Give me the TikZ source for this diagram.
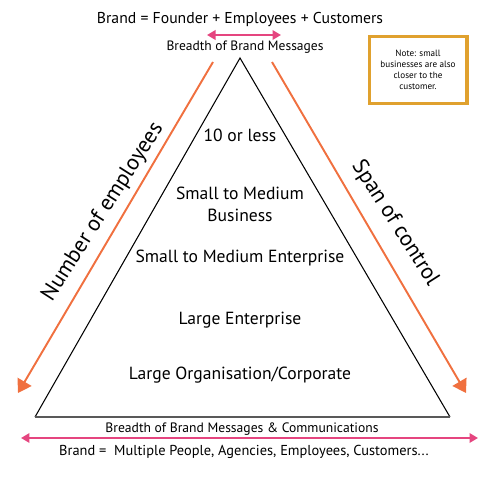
\documentclass[tikz,border=0pt]{standalone}
\usepackage{fontspec}
\setmainfont{PT Sans}
\usetikzlibrary{arrows.meta}
\definecolor{brandpink}{HTML}{E5457F}
\definecolor{spanorange}{HTML}{F0703F}
\definecolor{notegold}{HTML}{E0A12E}
\tikzset{
  pinkarrow/.style={draw=brandpink, line width=1.1pt, {Triangle[length=1.7mm,width=1.9mm]}-{Triangle[length=1.7mm,width=1.9mm]}},
  orangearrow/.style={draw=spanorange, line width=1.1pt, -{Triangle[length=2.6mm,width=3.2mm]}},
  tierlabel/.style={font=\fontsize{10}{12}\selectfont, inner sep=0pt},
}
\begin{document}
\begin{tikzpicture}[x=0.02cm, y=-0.02cm]
        \useasboundingbox (0,0) rectangle (500,500);                  %
        % pyramid
        \coordinate (apex)  at (240,58);                              %
        \coordinate (left)  at (35,417);                              %
        \coordinate (right) at (450,417);                             %
        \draw [line width=0.6pt] (left) -- (apex) -- (right);         %
        \draw [line width=1.1pt, black!65] (left) -- (right);         %base
        % top
        \node (topbrand) at (240,20) [inner sep=0pt, font=\fontsize{8.95}{10}\selectfont]
              {Brand = Founder + Employees + Customers};              %
        \coordinate (tl) at (207,35);                                 %
        \coordinate (tr) at (281,35);                                 %
        \draw [pinkarrow] (tl) -- (tr);                               %
        \node (topbreadth) at (245,47) [inner sep=0pt, font=\fontsize{7.7}{9}\selectfont]
              {Breadth of Brand Messages};                            %
        % note
        \node (note) at (418,70) [draw=notegold, line width=2pt, minimum width=1.95cm, minimum height=1.34cm,
              align=center, font=\fontsize{5.2}{6.3}\selectfont]
              {Note: small\\businesses are also\\closer to the\\customer.};%
        % tiers
        \node (tierA) at (240,135) [tierlabel] {10 or less};           %
        \node (tierB) at (240,204.5) [tierlabel, align=center]
              {Small to Medium\\[0.5pt]Business};                     %
        \node (tierC) at (240,258) [tierlabel] {Small to Medium Enterprise};%
        \node (tierD) at (240,320) [tierlabel] {Large Enterprise};     %
        \node (tierE) at (240,375) [tierlabel] {Large Organisation/Corporate};%
        % side arrows
        \coordinate (lt) at (213,62);                                 %
        \coordinate (lb) at (18,393);                                 %
        \coordinate (rt) at (272,62);                                 %
        \coordinate (rb) at (466,393);                                %
        \draw [orangearrow] (lt) -- (lb);                             %
        \draw [orangearrow] (rt) -- (rb);                             %
        \node (employees) at (103,212) [rotate=57.5, inner sep=0pt, font=\fontsize{12.6}{14}\selectfont]
              {Number of employees};                                  %
        \node (span) at (395,223) [rotate=-57.5, inner sep=0pt, font=\fontsize{12.6}{14}\selectfont]
              {Span of control};                                      %
        % bottom
        \node (botbreadth) at (242,429) [inner sep=0pt, font=\fontsize{7.75}{9}\selectfont]
              {Breadth of Brand Messages \& Communications};          %
        \coordinate (bl) at (21,438);                                 %
        \coordinate (br) at (478,438);                                %
        \draw [pinkarrow] (bl) -- (br);                               %
        \node (botbrand) at (244,452) [inner sep=0pt, font=\fontsize{8.2}{10}\selectfont]
              {Brand =\ \ Multiple People, Agencies, Employees, Customers...};%
\end{tikzpicture}
\end{document}
